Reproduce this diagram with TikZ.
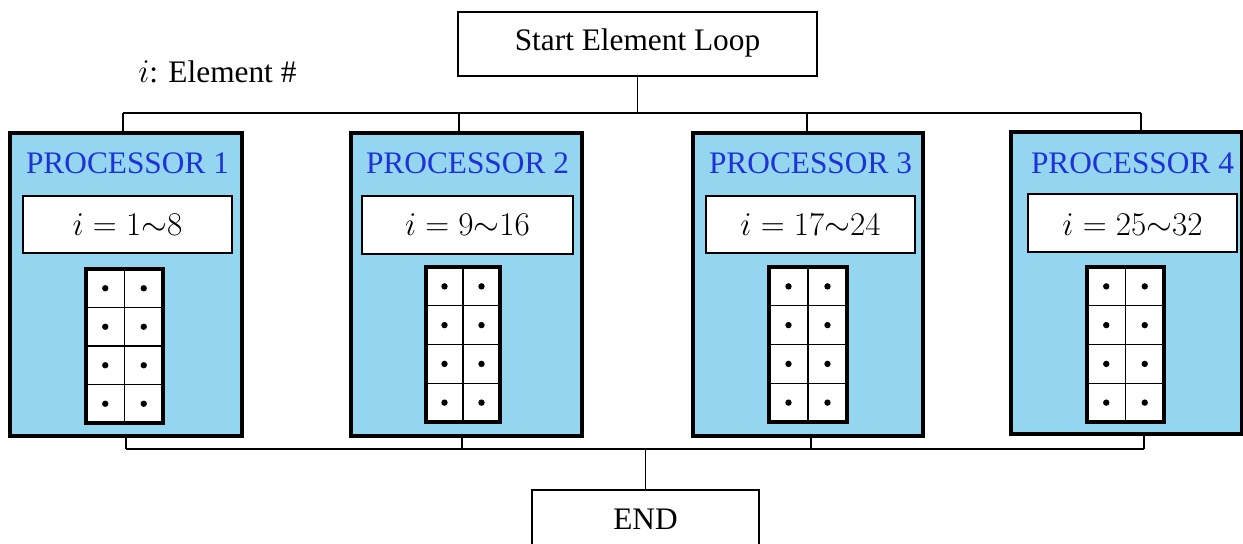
\documentclass[tikz,border=0pt]{standalone}
\usepackage{fontspec}
\setmainfont{Liberation Serif}
\usetikzlibrary{fit}
\definecolor{procfill}{RGB}{148,213,240}
\definecolor{titleblue}{RGB}{30,50,215}
\begin{document}
\begin{tikzpicture}[x=0.75pt,y=-0.75pt,
  flowbox/.style={draw, line width=1pt, inner sep=0pt},
  procbox/.style={draw, line width=2.3pt, fill=procfill, inner sep=0pt},
  rangebox/.style={draw, line width=0.8pt, fill=white, inner sep=0pt},
  bigtext/.style={font=\fontsize{23.5}{27}\selectfont, inner sep=0pt},
  mathtext/.style={font=\fontsize{25.5}{30}\selectfont, inner sep=0pt},
  titletext/.style={bigtext, text=titleblue},
  wire/.style={line width=1pt},
  cellline/.style={line width=0.8pt},
  gridframe/.style={line width=2.3pt},
  elemdot/.style={fill=black}]
\useasboundingbox (0,0) rectangle (1243,543);

% start and end boxes
\node[flowbox, fit={(458,12) (817,76)}] (start) {};
\node[bigtext] (starttxt) at (637.5,43) {Start Element Loop};
\node[flowbox, fit={(532,490) (759,570)}] (endbox) {};
\node[bigtext] (endtxt) at (645.5,519) {END};

% legend
\node[bigtext, anchor=west] (legend) at (138,72) {$i$: Element \#};

% processors
\foreach \n/\L/\R/\T/\B/\iL/\iR/\iT/\iB/\gL/\gR/\gT/\gB/\td/\bd/\rng in {
  1/10/242/133/436/23/232/196/253/86/163/269/423/123/126/{1{\sim}8},
  2/351/582/133/436/362/573/196/254/426/500/267/422/459/462/{9{\sim}16},
  3/693/923/133/436/706/915/196/253/769/847/267/422/807/811/{17{\sim}24},
  4/1011/1242/132/434/1028/1237/194/252/1087/1164/267/422/1141/1144/{25{\sim}32}} {
  \node[procbox, fit={(\L,\T) (\R,\B)}] (p\n) {};
  \node[rangebox, fit={(\iL,\iT) (\iR,\iB)}] (r\n) {};
  \node[titletext] (t\n) at ({(\iL+\iR)/2},163) {PROCESSOR \n};
  \node[mathtext] (m\n) at ({(\iL+\iR)/2},225) {$i = \rng$};
  % element grid: 2 columns x 4 rows
  \fill[white] (\gL,\gT) rectangle (\gR,\gB);
  \draw[cellline] ({(\gL+\gR)/2},\gT) -- ({(\gL+\gR)/2},\gB);
  \foreach \k in {1,2,3}
    \draw[cellline] (\gL,{\gT+\k*(\gB-\gT)/4}) -- (\gR,{\gT+\k*(\gB-\gT)/4});
  \foreach \c in {1,3}
    \foreach \k in {1,3,5,7}
      \fill[elemdot] ({\gL+\c*(\gR-\gL)/4},{\gT+\k*(\gB-\gT)/8}) circle (3.2);
  \draw[gridframe] (\gL,\gT) rectangle (\gR,\gB);
  % drop points on the buses
  \coordinate (ta\n) at (\td,113);
  \coordinate (ba\n) at (\bd,449);
  \draw[wire] (ta\n) -- (ta\n |- p\n.north);
  \draw[wire] (ba\n |- p\n.south) -- (ba\n);
}

% buses
\coordinate (topbus) at (start.south |- ta1);
\coordinate (botbus) at (endbox.north |- ba1);
\draw[wire] (start.south) -- (topbus);
\draw[wire] (ta1) -- (ta4);
\draw[wire] (ba1) -- (ba4);
\draw[wire] (botbus) -- (endbox.north);
\end{tikzpicture}
\end{document}
